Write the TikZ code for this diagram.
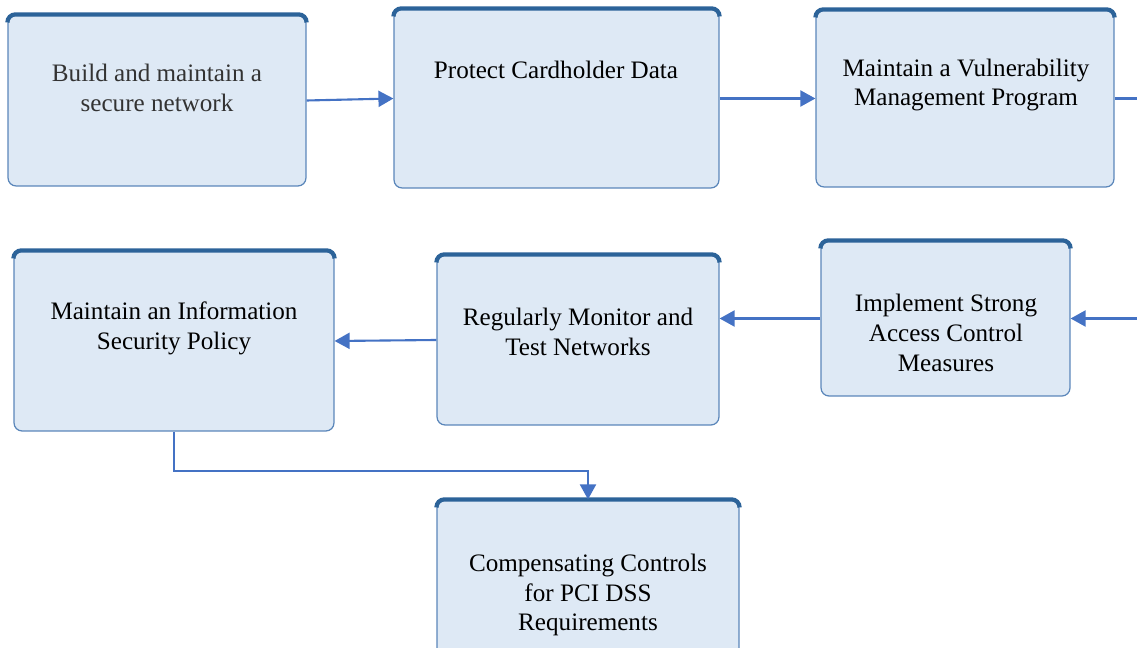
\documentclass[tikz,border=0pt]{standalone}
\usepackage{fontspec}
\setmainfont{Liberation Serif}
\usetikzlibrary{arrows.meta}
\definecolor{paper}{HTML}{DEE9F5}
\definecolor{edge}{HTML}{5A86BA}
\definecolor{bar}{HTML}{2C6399}
\definecolor{flow}{HTML}{4472C4}

\begin{document}
\begin{tikzpicture}[x=0.02cm,y=-0.02cm,>={Triangle[length=0.3cm,width=0.32cm]},
  box/.style={draw=edge,fill=paper,line width=0.7pt,rounded corners=0.16cm,inner sep=0pt},
  topbar/.style={draw=bar,line width=2.4pt,rounded corners=0.16cm},
  link/.style={->,draw=flow,line width=1.2pt},
  every node/.style={font=\fontsize{14.3}{17}\selectfont,align=center}]
  \useasboundingbox (0,0) rectangle (1137,648);
  \clip (0,0) rectangle (1137,648);
  % boxes
  \node[box,minimum width=5.96cm,minimum height=3.42cm] (b1) at (157,100.5) {};
  \node[box,minimum width=6.5cm,minimum height=3.58cm] (b2) at (556.5,98.5) {};
  \node[box,minimum width=5.96cm,minimum height=3.54cm] (b3) at (965,98.5) {};
  \node[box,minimum width=4.98cm,minimum height=3.1cm] (b4) at (945.5,318.5) {};
  \node[box,minimum width=5.64cm,minimum height=3.4cm] (b5) at (578,340) {};
  \node[box,minimum width=6.4cm,minimum height=3.6cm] (b6) at (174,341) {};
  \node[box,minimum width=6.04cm,minimum height=3.4cm] (b7) at (588,585) {};
  \foreach \n in {b1,b2,b3,b4,b5,b6,b7}
    \draw[topbar] ([shift={(0,8)}]\n.north west) |- (\n.north) -| ([shift={(0,8)}]\n.north east);
  % texts
  \node[text=black!80] (t1) at (157,88) {Build and maintain a\\secure network};
  \node (t2) at (556,70) {Protect Cardholder Data};
  \node (t3) at (966,85) {Maintain a Vulnerability\\Management Program};
  \node (t4) at (946,333) {Implement Strong\\Access Control\\Measures};
  \node (t5) at (578,332) {Regularly Monitor and\\Test Networks};
  \node (t6) at (174,328) {Maintain an Information\\Security Policy};
  \node (t7) at (588,595) {Compensating Controls\\for PCI DSS\\Requirements};
  % connectors
  \draw[link] (b1.east) -- (b2.west);
  \draw[link] (b2.east) -- (b3.west);
  \draw[link] (b3.east) -- ++(60,0) |- (b4.east);
  \draw[link] (b4.west) -- (b4.west -| b5.east);
  \draw[link] (b5.west) -- (b6.east);
  \draw[link] (b6.south) -- ++(0,39) -| (b7.north);
\end{tikzpicture}
\end{document}
